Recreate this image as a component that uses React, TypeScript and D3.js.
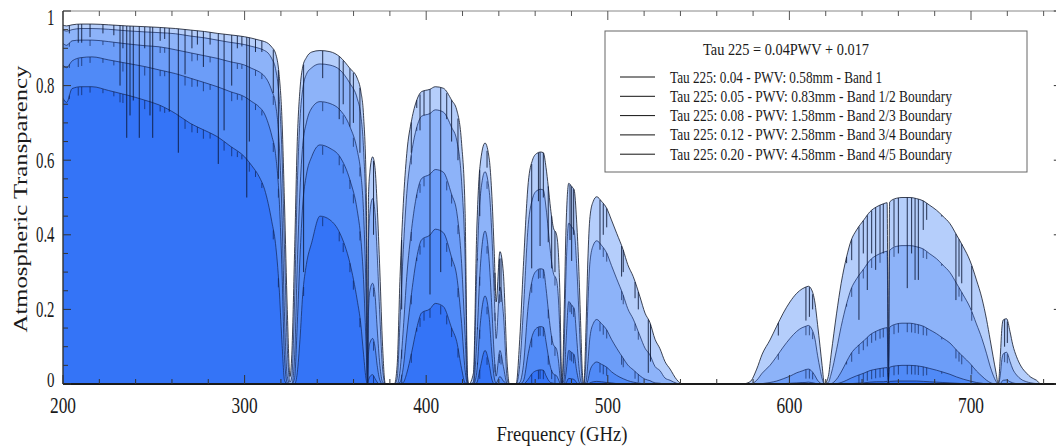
import React from 'react';
import * as d3 from 'd3';

// Frequency grid (GHz)
const freqs = [
  200, 202, 205, 210, 216, 225, 235, 245, 253, 262, 270, 278, 285, 292, 300, 304, 308, 311, 313, 315, 317, 319,
  320.5, 322, 323.5, 325, 326, 327.5, 329, 330.5, 332, 334, 337, 341.5, 347, 352.5, 358, 362, 364, 365.5, 367, 367.7,
  368.2, 369, 370.5, 371.8, 373, 374.5, 376, 377.5, 382.5,
  384, 385.6, 387.4, 389.3, 392, 394.8, 397.5, 402, 405, 409.4, 414, 416.8, 419.5, 421.4, 422.8, 423.5,
  426, 427.8, 429.6, 432.4, 434.8, 436, 437.5, 438.5, 440.6, 442.5, 444.7, 445.8, 449.5,
  451.5, 453.5, 456.2, 458.5, 460.8, 463, 464.5, 466, 467.2, 468.5, 470, 471.8, 473, 473.7, 474.3, 474.8,
  476, 477, 478.5, 480, 481.5, 482.8, 483.8, 485, 486, 486.8,
  488, 489, 490.2, 492, 493.9, 496.5, 499.4, 502, 504.9, 508.5, 511, 514, 517.7, 520.5, 523.2, 526, 528.7, 531.5, 534.3, 537.9, 541, 574,
  578.3, 582, 585, 589.3, 593, 596.6, 600.3, 604, 607, 608.6, 610.5, 612, 614.1, 615.5, 616.9, 618, 619.3,
  621.4, 623, 626, 628.5, 631.5, 634, 637, 641, 644.4, 648, 651.7, 653.8, 654.5, 655.2, 659, 662, 666.4, 670, 673.7, 677, 681, 684.5, 688.4, 692, 695.7, 699.5, 703, 706, 708.6, 710.5, 712.2, 713.8, 715,
  716.2, 717, 717.8, 719.6, 721.5, 723, 725.1, 727.5, 730.6, 733, 736.1, 738.5, 750,
];

// Tau 225: 0.04 - PWV 0.58 mm
const pwv058 = [
  .962, .960, .963, .965, .965, .963, .960, .958, .956, .953, .949, .945, .940, .936, .931, .927, .922, .918, .913, .903, .887, .830,
  .720, .480, .200, .020, .080, .350, .650, .790, .850, .875, .890, .894, .891, .877, .846, .820, .785, .720, .520, 0,
  .500, .570, .609, .580, .480, .300, .100, 0, 0,
  .050, .288, .484, .618, .708, .761, .784, .790, .797, .793, .761, .735, .645, .466, .020, 0,
  .029, .404, .583, .646, .600, .520, .350, .220, .355, .297, .046, 0, 0,
  .120, .315, .540, .600, .618, .622, .620, .580, .530, .470, .420, .400, .330, .225, .060, 0,
  .200, .420, .538, .530, .520, .440, .340, .170, .030, 0,
  .150, .330, .449, .490, .502, .490, .471, .440, .404, .359, .320, .288, .234, .190, .165, .120, .095, .060, .040, .012, 0, 0,
  .006, .040, .080, .118, .155, .190, .220, .243, .255, .259, .262, .255, .217, .160, .100, .050, 0,
  .020, .080, .190, .270, .341, .385, .413, .440, .462, .475, .483, .486, .030, .488, .498, .500, .500, .497, .491, .480, .466, .450, .430, .400, .368, .330, .279, .230, .172, .120, .073, .030, 0,
  .080, .150, .172, .175, .140, .105, .073, .048, .029, .018, .010, 0, 0,
];

// Tau 225: 0.05 - PWV 0.83 mm
const pwv083 = [
  .949, .946, .950, .953, .953, .951, .947, .944, .942, .939, .933, .928, .922, .916, .910, .905, .900, .894, .887, .872, .846, .770,
  .630, .360, .100, .005, .020, .220, .530, .710, .790, .830, .848, .858, .855, .842, .806, .766, .720, .630, .400, 0,
  .380, .460, .497, .460, .350, .180, .040, 0, 0,
  .015, .171, .360, .511, .621, .688, .718, .725, .735, .729, .688, .654, .542, .341, .005, 0,
  .005, .292, .493, .569, .513, .418, .237, .122, .260, .188, .010, 0, 0,
  .050, .197, .427, .496, .518, .522, .520, .472, .415, .350, .298, .278, .211, .122, .015, 0,
  .105, .302, .431, .422, .410, .323, .223, .083, .005, 0,
  .068, .211, .328, .372, .384, .372, .351, .318, .282, .238, .202, .174, .129, .096, .078, .047, .036, .016, .010, .002, 0, 0,
  0, .010, .029, .050, .074, .099, .122, .141, .151, .154, .157, .150, .120, .077, .040, .015, 0,
  .004, .027, .093, .154, .215, .255, .282, .309, .332, .345, .353, .356, .020, .358, .369, .371, .371, .368, .362, .350, .336, .319, .299, .270, .239, .205, .161, .122, .081, .048, .024, .007, 0,
  .027, .066, .081, .085, .060, .040, .024, .013, .006, .003, .001, 0, 0,
];

// Tau 225: 0.08 - PWV 1.58 mm
const pwv158 = [
  .913, .908, .920, .922, .922, .918, .912, .907, .904, .896, .888, .880, .873, .864, .855, .846, .837, .825, .810, .786, .752, .650,
  .470, .180, .020, 0, 0, .070, .320, .520, .640, .700, .740, .757, .752, .735, .690, .627, .565, .460, .210, 0,
  .190, .250, .270, .240, .150, .050, .005, 0, 0,
  0, .036, .148, .288, .417, .508, .551, .562, .575, .568, .508, .462, .323, .133, 0, 0,
  0, .110, .298, .410, .322, .218, .074, .021, .090, .047, 0, 0, 0,
  .004, .049, .211, .281, .304, .309, .307, .256, .200, .144, .106, .093, .055, .019, 0, 0,
  .015, .113, .221, .212, .202, .128, .063, .010, 0, 0,
  .006, .055, .127, .162, .173, .162, .145, .120, .096, .069, .051, .038, .022, .013, .009, .003, .002, 0, 0, 0, 0, 0,
  0, 0, .001, .004, .008, .014, .021, .030, .035, .038, .040, .036, .022, .010, .003, 0, 0,
  0, .001, .013, .032, .060, .082, .099, .116, .132, .142, .149, .151, .010, .152, .161, .163, .163, .160, .155, .146, .135, .123, .110, .091, .073, .055, .035, .021, .010, .004, .001, 0, 0,
  .001, .007, .010, .011, .006, .003, .001, 0, 0, 0, 0, 0, 0,
];

// Tau 225: 0.12 - PWV 2.58 mm
const pwv258 = [
  .855, .848, .866, .875, .877, .869, .860, .851, .842, .832, .820, .808, .797, .784, .770, .757, .743, .724, .699, .665, .618, .500,
  .320, .070, .003, 0, 0, .015, .160, .340, .480, .560, .610, .641, .632, .609, .547, .466, .390, .280, .090, 0,
  .080, .110, .122, .100, .050, .010, 0, 0, 0,
  0, .005, .045, .134, .246, .339, .387, .399, .415, .406, .339, .290, .162, .038, 0, 0,
  0, .030, .152, .236, .173, .091, .016, .003, .020, .008, 0, 0, 0,
  0, .008, .082, .131, .150, .154, .152, .113, .076, .044, .027, .022, .010, .002, 0, 0,
  .001, .030, .090, .085, .078, .037, .012, 0, 0, 0,
  0, .009, .036, .053, .059, .053, .045, .033, .023, .014, .009, .005, .002, 0, 0, 0, 0, 0, 0, 0, 0, 0,
  0, 0, 0, 0, 0, .001, .002, .003, .004, .004, .005, .004, .002, 0, 0, 0, 0,
  0, 0, .001, .004, .010, .016, .022, .029, .036, .040, .043, .044, .005, .045, .049, .050, .050, .049, .046, .042, .037, .032, .026, .019, .013, .008, .004, .002, 0, 0, 0, 0, 0,
  0, 0, .001, .001, 0, 0, 0, 0, 0, 0, 0, 0, 0,
];

// Tau 225: 0.20 - PWV 4.58 mm
const pwv458 = [
  .766, .755, .792, .797, .797, .787, .775, .761, .748, .725, .699, .680, .663, .638, .609, .585, .556, .522, .484, .435, .377, .260,
  .120, .010, 0, 0, 0, 0, .030, .120, .240, .320, .380, .450, .440, .404, .324, .225, .160, .080, .010, 0,
  .010, .020, .025, .015, .005, 0, 0, 0, 0,
  0, 0, .004, .029, .085, .150, .191, .201, .216, .208, .150, .114, .041, .003, 0, 0,
  0, .003, .040, .090, .050, .016, 0, 0, 0, 0, 0, 0, 0,
  0, 0, .013, .029, .036, .038, .037, .022, .011, .004, .002, 0, 0, 0, 0, 0,
  0, .003, .015, .014, .012, .004, 0, 0, 0, 0,
  0, 0, .003, .006, .007, .006, .004, .003, .001, 0, 0, 0, 0, 0, 0, 0, 0, 0, 0, 0, 0, 0,
  0, 0, 0, 0, 0, 0, 0, 0, 0, 0, 0, 0, 0, 0, 0, 0, 0,
  0, 0, 0, 0, .001, .001, .002, .003, .005, .006, .006, .007, 0, .007, .008, .008, .008, .008, .007, .006, .005, .004, .003, .002, .001, 0, 0, 0, 0, 0, 0, 0, 0,
  0, 0, 0, 0, 0, 0, 0, 0, 0, 0, 0, 0, 0,
];

// Narrow absorption lines: frequency and lowest transparency reached by the top curve
const spikeFreqs = [
  203.5, 208.4, 210.3, 214.9, 222, 228, 231.4, 233, 235.1, 236.9, 238.7, 242, 245, 247.9, 249.4, 253.5, 256, 258.5, 263.5, 267.2,
  271, 274, 277.3, 281, 285.5, 288.7, 292.9, 296, 298.5, 301.2, 302.6, 306, 309.5, 315.8, 318.6,
  332.5, 343, 352.1, 354.3, 358, 359.9, 363.5, 371,
  386.5, 391.8, 394.8, 396.6, 398.8, 402.1, 408, 411.3, 414, 417.5,
  428.2, 429.5, 433.5, 437.9, 440.3, 441.2,
  458.1, 461.8, 462.7, 464.5, 467.2, 469.1, 470.9,
  479.2, 480.1, 481.2,
  495.7, 497.5, 499.4, 507.6, 508.5, 515, 516.8, 522.3, 523.5,
  593.9, 609.1, 611, 612.8,
  631.5, 634.3, 638.3, 640.7, 642.9, 645.3, 647.5, 649.9, 651.7, 654.5, 657.6, 660, 664.9, 667.3, 669.2, 671, 673.7, 675.6, 683.9,
  691.7, 693.4, 694.9, 700.4,
  718.5, 720,
];
const spikeDepths = [
  .94, .915, .915, .93, .94, .935, .80, .90, .66, .72, .76, .66, .90, .72, .66, .92, .925, .73, .62, .83,
  .90, .91, .85, .91, .59, .68, .80, .90, .905, .50, .65, .89, .89, .78, .55,
  .30, .82, .71, .75, .69, .70, .62, .40,
  .20, .62, .74, .68, .72, .24, .30, .71, .65, .60,
  .47, .45, .58, .25, .25, .22,
  .31, .49, .37, .50, .38, .31, .30,
  .386, .33, .40,
  .36, .40, .42, .288, .30, .23, .20, .03, .06,
  .13, .17, .18, .20,
  .324, .332, .172, .35, .252, .35, .306, .35, .35, 0, .368, .35, .257, .35, .279, .279, .413, .44, .449,
  .225, .288, .27, .198,
  .10, .11,
];

const seriesLabels = [
  'Tau 225: 0.04 - PWV: 0.58mm - Band 1',
  'Tau 225: 0.05 - PWV: 0.83mm - Band 1/2 Boundary',
  'Tau 225: 0.08 - PWV: 1.58mm - Band 2/3 Boundary',
  'Tau 225: 0.12 - PWV: 2.58mm - Band 3/4 Boundary',
  'Tau 225: 0.20 - PWV: 4.58mm - Band 4/5 Boundary',
];
const legendTitle = 'Tau 225 = 0.04PWV + 0.017';
const xMajorTicks = [200, 300, 400, 500, 600, 700];
const yMajorTicks = [0, 0.2, 0.4, 0.6, 0.8, 1];
const yTickLabels = ['0', '0.2', '0.4', '0.6', '0.8', '1'];

const fills = ['#b5cefb', '#8db3f9', '#6c9df8', '#508af7', '#3474f7'];
const FONT = '"Liberation Serif", "Times New Roman", serif';

export default function App() {
  const W = 1056;
  const H = 446;
  const x = d3.scaleLinear().domain([200, 750]).range([63, 1061.8]);
  const y = d3.scaleLinear().domain([0, 1]).range([384, 11]);
  const [x0, x1] = x.range();
  const [yb, yt] = y.range();

  const series = [pwv058, pwv083, pwv158, pwv258, pwv458];
  const areaGen = d3
    .area<number>()
    .x((_, i) => x(freqs[i]))
    .y0(y(0))
    .y1((d) => y(d))
    .curve(d3.curveMonotoneX);
  const lineGen = d3
    .line<number>()
    .x((_, i) => x(freqs[i]))
    .y((d) => y(d))
    .curve(d3.curveMonotoneX);

  const bis = d3.bisector((d: number) => d).left;
  const valueAt = (vals: number[], f: number) => {
    const i = bis(freqs, f);
    if (i <= 0) return vals[0];
    if (i >= freqs.length) return vals[vals.length - 1];
    const t = (f - freqs[i - 1]) / (freqs[i] - freqs[i - 1]);
    return vals[i - 1] + (vals[i] - vals[i - 1]) * t;
  };

  const xMinor = d3.range(200, 751, 20);
  const yMinor = d3.range(0, 1.0001, 0.05);

  const spikeEls: React.ReactNode[] = [];
  spikeFreqs.forEach((f, k) => {
    const top = valueAt(pwv058, f);
    const depth = Math.min(spikeDepths[k], top);
    const ya = y(top);
    const yd = y(depth);
    spikeEls.push(
      <line key={'s' + k} x1={x(f)} x2={x(f)} y1={ya} y2={yd} stroke="#0b1533" strokeWidth={1} strokeOpacity={0.85} />
    );
    const len = Math.max(2, Math.min(9, 0.45 * (yd - ya)));
    for (let s = 1; s < series.length; s++) {
      const v = valueAt(series[s], f);
      if (v < 0.02 || v >= depth) continue;
      const yv = y(v);
      spikeEls.push(
        <line key={'n' + k + '_' + s} x1={x(f)} x2={x(f)} y1={yv} y2={Math.min(yb, yv + len)} stroke="#0b1a45" strokeWidth={0.9} strokeOpacity={0.7} />
      );
    }
  });

  const legendY = [77, 96.3, 115.6, 134.9, 154.2];

  return (
    <svg width={W} height={H} style={{ position: 'absolute', left: 0, top: 0, background: '#fff' }} fontFamily={FONT}>
      <defs>
        <clipPath id="plotClip">
          <rect x={x0} y={yt} width={x1 - x0} height={yb - yt} />
        </clipPath>
      </defs>
      <rect x={0} y={0} width={W} height={H} fill="#fff" />
      <g clipPath="url(#plotClip)">
        {series.map((s, i) => (
          <path key={'a' + i} d={areaGen(s) || ''} fill={fills[i]} stroke="none" />
        ))}
        {series.map((s, i) => (
          <path
            key={'l' + i}
            d={lineGen(s) || ''}
            fill="none"
            stroke={i === 0 ? '#141a2a' : '#14275a'}
            strokeWidth={i === 0 ? 0.9 : 0.8}
            strokeOpacity={0.9}
          />
        ))}
        {spikeEls}
      </g>

      {/* frame */}
      <line x1={x0} x2={W} y1={yt} y2={yt} stroke="#888" strokeWidth={1} />
      <line x1={x0} x2={x0} y1={yt} y2={yb} stroke="#333" strokeWidth={1.4} />
      <line x1={x1} x2={x1} y1={yt} y2={yb} stroke="#333" strokeWidth={1.4} />
      <line x1={x0} x2={W} y1={yb} y2={yb} stroke="#1a1a1a" strokeWidth={2} />

      {/* x ticks (inward, top and bottom) */}
      {xMinor.map((v) => {
        const major = xMajorTicks.includes(v);
        const L = major ? 9 : 5;
        return (
          <g key={'xt' + v}>
            <line x1={x(v)} x2={x(v)} y1={yt} y2={yt + L} stroke="#555" strokeWidth={1} />
            <line x1={x(v)} x2={x(v)} y1={yb} y2={yb - L} stroke="#333" strokeWidth={1} />
          </g>
        );
      })}
      {/* y ticks (inward, left and right) */}
      {yMinor.map((v, i) => {
        const major = i % 4 === 0;
        const L = major ? 8 : 5;
        return (
          <g key={'yt' + i}>
            <line x1={x0} x2={x0 + L} y1={y(v)} y2={y(v)} stroke="#333" strokeWidth={1} />
            <line x1={x1} x2={x1 - L} y1={y(v)} y2={y(v)} stroke="#333" strokeWidth={1} />
          </g>
        );
      })}

      {/* tick labels */}
      {xMajorTicks.map((v) => (
        <text
          key={'xl' + v}
          x={x(v)}
          y={405}
          textAnchor="middle"
          dominantBaseline="central"
          fontSize={22.5}
          textLength={26}
          lengthAdjust="spacingAndGlyphs"
          fill="#1a1a1a"
        >
          {v}
        </text>
      ))}
      {yMajorTicks.map((v, i) => {
        const lbl = yTickLabels[i];
        const cy = v === 1 ? 17 : v === 0 ? 379.5 : y(v);
        return (
          <text
            key={'yl' + i}
            x={54.5}
            y={cy}
            textAnchor="end"
            dominantBaseline="central"
            fontSize={v === 0 ? 21 : 22.5}
            textLength={lbl.length > 1 ? 18.5 : 7.5}
            lengthAdjust="spacingAndGlyphs"
            fill="#1a1a1a"
          >
            {lbl}
          </text>
        );
      })}

      {/* axis titles */}
      <text
        x={562}
        y={434}
        textAnchor="middle"
        dominantBaseline="central"
        fontSize={21}
        textLength={131}
        lengthAdjust="spacingAndGlyphs"
        fill="#1a1a1a"
      >
        Frequency (GHz)
      </text>
      <text
        transform="translate(21,199) scale(0.72,1) rotate(-90)"
        textAnchor="middle"
        dominantBaseline="central"
        fontSize={24.7}
        fill="#1a1a1a"
      >
        Atmospheric Transparency
      </text>

      {/* legend */}
      <g>
        <rect x={605} y={31} width={422} height={141} fill="#fff" stroke="#666" strokeWidth={1} />
        <text
          x={786}
          y={48.5}
          textAnchor="middle"
          dominantBaseline="central"
          fontSize={17.5}
          textLength={166}
          lengthAdjust="spacingAndGlyphs"
          fill="#1a1a1a"
        >
          {legendTitle}
        </text>
        {seriesLabels.map((lbl, i) => (
          <g key={'lg' + i}>
            <line x1={620} x2={655} y1={legendY[i]} y2={legendY[i]} stroke="#111" strokeWidth={1} />
            <text
              x={670}
              y={legendY[i]}
              dominantBaseline="central"
              fontSize={16}
              textLength={i === 0 ? 212 : 282}
              lengthAdjust="spacingAndGlyphs"
              fill="#1a1a1a"
            >
              {lbl}
            </text>
          </g>
        ))}
      </g>
    </svg>
  );
}
